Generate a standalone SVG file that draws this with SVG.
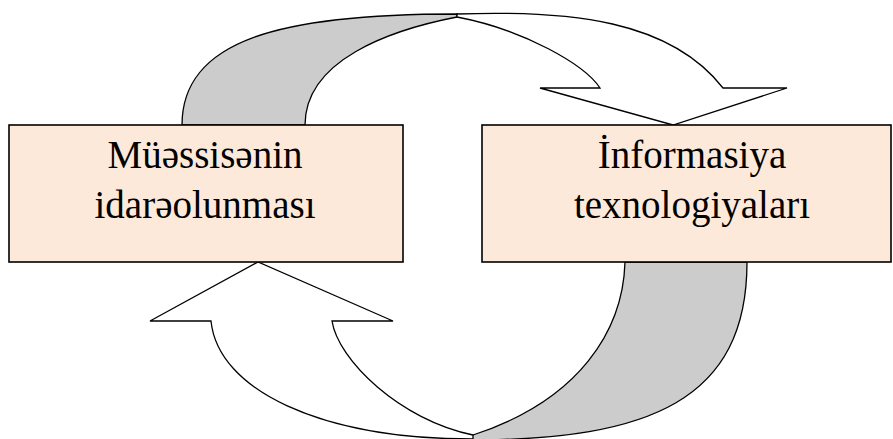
<svg xmlns="http://www.w3.org/2000/svg" width="893" height="439" viewBox="0 0 893 439">
<style>
.box{fill:#FDE9D9;stroke:#000;stroke-width:1.6}
.back{fill:#CCCCCC;stroke:#000;stroke-width:1.3;stroke-linejoin:miter}
.front{fill:#FFFFFF;stroke:#000;stroke-width:1.3;stroke-linejoin:miter}
.lbl{font-family:"Liberation Serif","Times New Roman",serif;font-size:39px;fill:#000;text-anchor:middle}
</style>
<rect width="893" height="439" fill="#FFFFFF"/>
<g id="connectors">
  <g id="top-arrow">
    <path class="back" d="M182,125 C182,40 280,14 457,14 L457,17 C390,30 305,60 305,125 Z"/>
    <path class="front" d="M457,14 C570,10 670,20 723,88 L787,88 L673,125 L540,88 L600,88 C585,65 525,30 457,17 Z"/>
  </g>
  <g id="bottom-arrow">
    <path class="back" d="M470,440 C650,440 747,400 747,262 L625,262 C623,330 580,400 473,435 Z"/>
    <path class="front" d="M211,321 C218,390 320,439 473,439 L473,435 C400,420 338,360 332,321 L393,321 L258,262 L150,321 Z"/>
  </g>
</g>
<g id="node-left">
  <rect class="box" x="9" y="125" width="394" height="137"/>
  <text class="lbl" x="205" y="168">Müəssisənin</text>
  <text class="lbl" x="205" y="218">idarəolunması</text>
</g>
<g id="node-right">
  <rect class="box" x="482" y="125" width="409" height="137"/>
  <text class="lbl" x="692" y="168">İnformasiya</text>
  <text class="lbl" x="692" y="218">texnologiyaları</text>
</g>
</svg>
